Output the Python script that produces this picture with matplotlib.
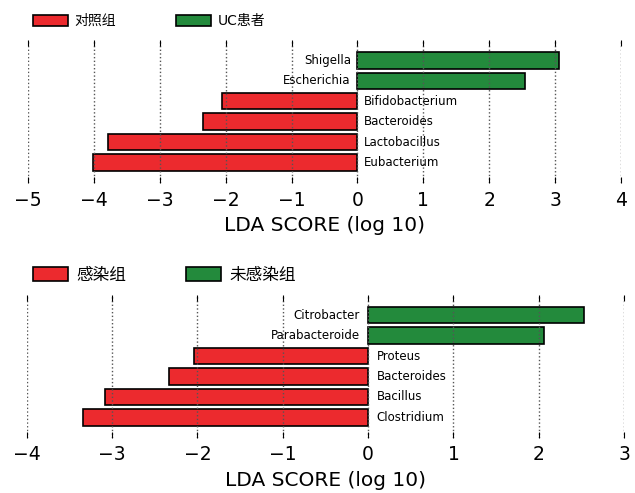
import matplotlib.pyplot as plt
from matplotlib.patches import Patch

plt.rcParams['font.family'] = ['DejaVu Sans', 'Noto Sans CJK SC']

RED = '#ec2a2e'
GREEN = '#238a3c'

# upper panel: control vs UC
top_taxa = ['Shigella', 'Escherichia', 'Bifidobacterium', 'Bacteroides',
            'Lactobacillus', 'Eubacterium']
top_lda = [3.06, 2.54, -2.06, -2.34, -3.78, -4.01]
top_groups = ['对照组', 'UC患者']
top_ticks = [-5, -4, -3, -2, -1, 0, 1, 2, 3, 4]

# lower panel: infected vs not infected
bot_taxa = ['Citrobacter', 'Parabacteroide', 'Proteus', 'Bacteroides',
            'Bacillus', 'Clostridium']
bot_lda = [2.53, 2.06, -2.04, -2.33, -3.08, -3.34]
bot_groups = ['感染组', '未感染组']
bot_ticks = [-4, -3, -2, -1, 0, 1, 2, 3]


def lda_panel(ax, taxa, lda, groups, ticks, legend_size, handle_len,
              colspace, legend_anchor):
    ypos = list(range(len(taxa)))[::-1]
    colors = [GREEN if v > 0 else RED for v in lda]
    ax.barh(ypos, lda, height=0.8, color=colors, edgecolor='black',
            linewidth=1.2, zorder=1)
    for y, name, v in zip(ypos, taxa, lda):
        if v > 0:
            ax.text(-0.1, y, name, ha='right', va='center', fontsize=8.5, zorder=3)
        else:
            ax.text(0.1, y, name, ha='left', va='center', fontsize=8.5, zorder=3)
    ax.set_xlim(ticks[0], ticks[-1])
    ax.set_ylim(-1, len(taxa))
    ax.set_xticks(ticks)
    ax.set_yticks([])
    ax.tick_params(axis='x', direction='in', top=True, bottom=True,
                   length=4.5, width=0.8, labelsize=13.5, pad=5.5)
    for s in ax.spines.values():
        s.set_visible(False)
    ax.grid(axis='x', linestyle=':', color='#555555', linewidth=1.0, zorder=2)
    ax.set_axisbelow(False)
    ax.set_xlabel('LDA SCORE (log 10)', fontsize=14.5, labelpad=5)
    handles = [Patch(facecolor=RED, edgecolor='black', linewidth=1.2),
               Patch(facecolor=GREEN, edgecolor='black', linewidth=1.2)]
    ax.legend(handles, groups, ncol=2, frameon=False, loc='lower left',
              bbox_to_anchor=legend_anchor, fontsize=legend_size,
              handlelength=handle_len, handleheight=0.9, handletextpad=0.5,
              columnspacing=colspace, borderaxespad=0, borderpad=0)


fig = plt.figure(figsize=(6.35, 4.93), dpi=100)
ax1 = fig.add_axes([0.044, 0.629, 0.934, 0.290])
ax2 = fig.add_axes([0.042, 0.112, 0.941, 0.290])

lda_panel(ax1, top_taxa, top_lda, top_groups, top_ticks, 10, 2.5, 4.3,
          (0.0085, 1.083))
lda_panel(ax2, bot_taxa, bot_lda, bot_groups, bot_ticks, 12, 2.1, 3.6,
          (0.01, 1.076))

fig.savefig('out.png', dpi=100)
